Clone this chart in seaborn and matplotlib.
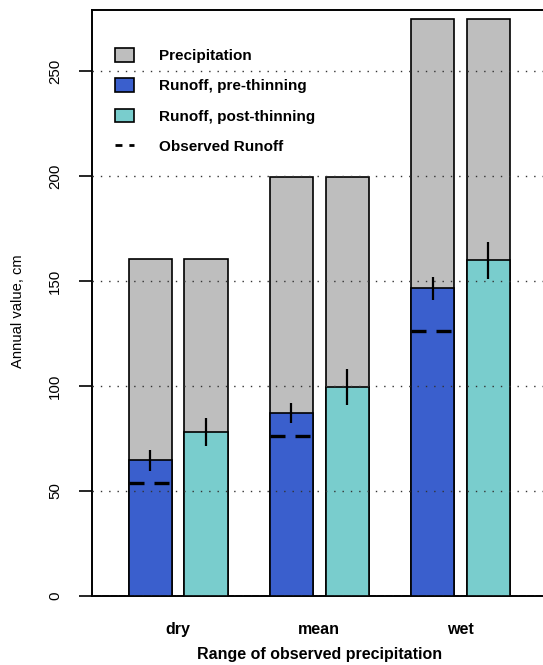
import numpy as np
import pandas as pd
import matplotlib
matplotlib.use("Agg")
import matplotlib.pyplot as plt
import seaborn as sns
from matplotlib.patches import Patch
from matplotlib.lines import Line2D

# ---- data ----
categories = ["dry", "mean", "wet"]
periods = ["pre", "post"]
precip = [160.5, 199.4, 274.8]
runoff_pre = [64.6, 87.1, 146.5]
runoff_post = [78.0, 99.5, 159.8]
err_pre = [4.9, 4.8, 5.6]
err_post = [6.8, 8.4, 8.7]
observed = [53.8, 76.3, 126.3]
yticks = [0, 50, 100, 150, 200, 250]
legend_labels = ["Precipitation", "Runoff, pre-thinning", "Runoff, post-thinning", "Observed Runoff"]

gray = "#BEBEBE"
blue = "#3A5FCD"
teal = "#79CDCD"

df = pd.DataFrame({
    "category": categories * 2,
    "period": ["pre"] * 3 + ["post"] * 3,
    "precip": precip * 2,
    "runoff": runoff_pre + runoff_post,
})

sns.set_style("ticks")
plt.rcParams["font.family"] = ["Liberation Sans", "DejaVu Sans"]
plt.rcParams["text.color"] = "black"
plt.rcParams["axes.labelcolor"] = "black"
plt.rcParams["xtick.color"] = "black"
plt.rcParams["ytick.color"] = "black"

W, H = 543, 665
AX_L, AX_R, AX_T, AX_B = 91.5, 547, 10, 596
fig = plt.figure(figsize=(W / 100, H / 100), dpi=100)
ax = fig.add_axes([AX_L / W, (H - AX_B) / H, (AX_R - AX_L) / W, (AX_B - AX_T) / H])

bar_kw = dict(width=0.79, gap=0.226, edgecolor="black", linewidth=1.2,
              errorbar=None, legend=False, order=categories, hue_order=periods, saturation=1)
sns.barplot(data=df, x="category", y="precip", hue="period",
            palette=[gray, gray], ax=ax, zorder=2, **bar_kw)
sns.barplot(data=df, x="category", y="runoff", hue="period",
            palette=[blue, teal], ax=ax, zorder=3, **bar_kw)

pre_bars = ax.containers[-2]
post_bars = ax.containers[-1]
for bars, errs in ((pre_bars, err_pre), (post_bars, err_post)):
    for p, e in zip(bars.patches, errs):
        xc = p.get_x() + p.get_width() / 2
        top = p.get_height()
        ax.vlines(xc, top - e, top + e, color="black", linewidth=1.6, zorder=6)

for p, obs in zip(pre_bars.patches, observed):
    ax.hlines(obs, p.get_x(), p.get_x() + p.get_width(), color="black",
              linewidth=2.4, linestyles=(0, (4.5, 3.0)), zorder=6)

ax.set_xlim(-0.613, 2.613)
ax.set_ylim(0, 279.05)
ax.set_yticks(yticks)
ax.set_yticklabels([str(t) for t in yticks], rotation=90, va="center", fontsize=10.8)
for lab in ax.get_xticklabels():
    lab.set_fontsize(11.5)
    lab.set_fontweight("bold")

ax.yaxis.grid(True, linestyle=(0, (1, 5)), color="#333333", linewidth=1.0)
ax.set_axisbelow(False)
ax.yaxis.set_zorder(4)

for s in ["left", "top", "bottom"]:
    ax.spines[s].set_visible(True)
    ax.spines[s].set_color("black")
    ax.spines[s].set_linewidth(1.4)
ax.spines["right"].set_visible(False)

ax.set_xlabel("Range of observed precipitation", fontsize=11.5, fontweight="bold",
              labelpad=7, color="black")
ax.set_ylabel("Annual value, cm", fontsize=10.6, color="black")
ax.yaxis.set_label_coords(-(AX_L - 25) / (AX_R - AX_L), (AX_B - 311) / (AX_B - AX_T))

handles = [
    Patch(facecolor=gray, edgecolor="black", linewidth=1.2),
    Patch(facecolor=blue, edgecolor="black", linewidth=1.2),
    Patch(facecolor=teal, edgecolor="black", linewidth=1.2),
    Line2D([0], [0], color="black", linewidth=2.0, linestyle=(0, (2.5, 2.5))),
]
leg = ax.legend(handles, legend_labels, frameon=False, loc="upper left",
                bbox_to_anchor=((117 - AX_L) / (AX_R - AX_L) - 0.005, (AX_B - 48) / (AX_B - AX_T)),
                borderaxespad=0, borderpad=0,
                prop={"size": 11, "weight": "bold"},
                handlelength=1.25, handleheight=1.0, handletextpad=1.65, labelspacing=1.0)
leg.set_zorder(10)
for t in leg.get_texts():
    t.set_color("black")

ax.tick_params(axis="y", which="major", direction="out", length=9.7, width=1.2,
               pad=11.5, left=True, right=False, color="black", labelcolor="black")
ax.tick_params(axis="x", length=0, pad=19, bottom=False, labelcolor="black")

fig.savefig("out.png", dpi=100)
